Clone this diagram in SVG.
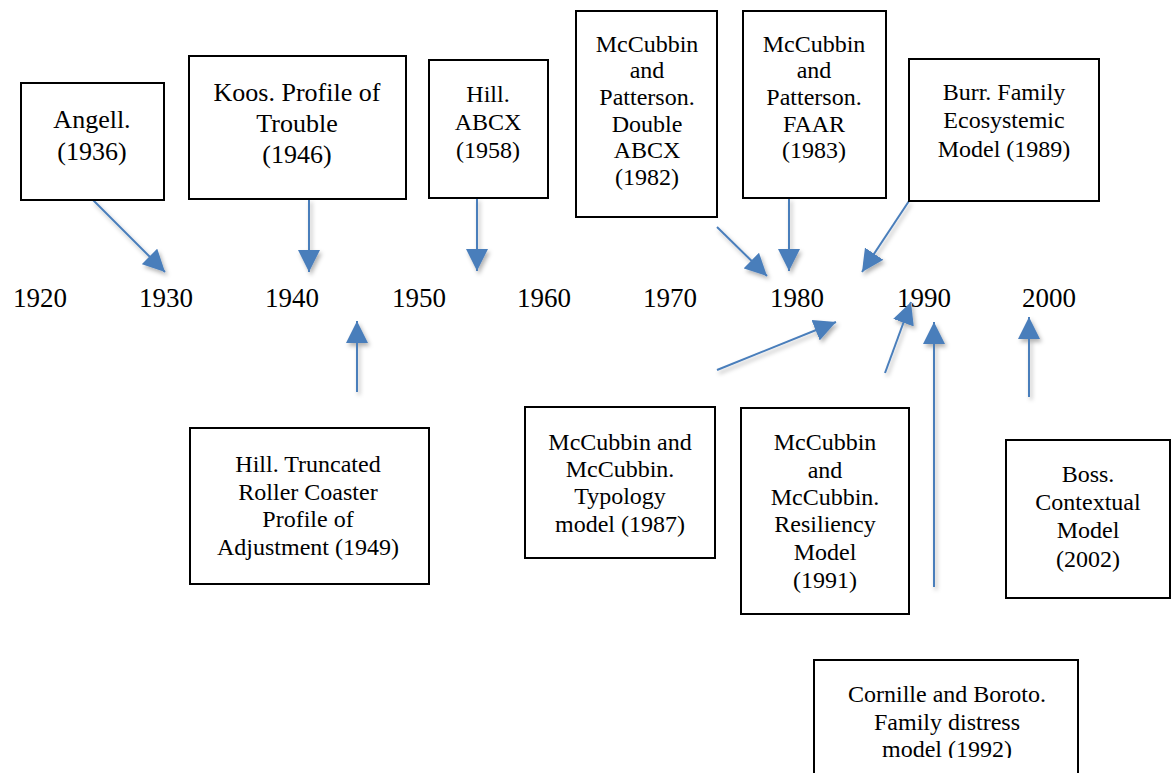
<svg xmlns="http://www.w3.org/2000/svg" width="1171" height="773" viewBox="0 0 1171 773">
<style>
.box{fill:#fff;stroke:#000;stroke-width:2}
.t{font-family:"Liberation Serif","Times New Roman",serif;fill:#000;text-anchor:middle;font-size:24px}
.big{font-size:26px}
.yr{font-family:"Liberation Serif","Times New Roman",serif;fill:#000;font-size:27px}
.arr{stroke:#4a7ebb;stroke-width:2;fill:none;marker-end:url(#ah)}
</style>
<defs>
<marker id="ah" markerUnits="userSpaceOnUse" markerWidth="22" markerHeight="22" refX="20" refY="10" orient="auto" viewBox="0 0 20 20">
<path d="M0,0 L20,10 L0,20 z" fill="#4a7ebb"/>
</marker>
<filter id="sh" x="-20%" y="-20%" width="140%" height="140%">
<feDropShadow dx="2" dy="3" stdDeviation="2" flood-color="#000" flood-opacity="0.3"/>
</filter>
<clipPath id="cc"><rect x="814" y="660" width="264" height="98"/></clipPath>
</defs>
<rect width="1171" height="773" fill="#fff"/>

<g id="years">
<text class="yr" x="13" y="307">1920</text>
<text class="yr" x="139" y="307">1930</text>
<text class="yr" x="265" y="307">1940</text>
<text class="yr" x="392" y="307">1950</text>
<text class="yr" x="517" y="307">1960</text>
<text class="yr" x="643" y="307">1970</text>
<text class="yr" x="770" y="307">1980</text>
<text class="yr" x="897" y="307">1990</text>
<text class="yr" x="1022" y="307">2000</text>
</g>

<g id="connectors" filter="url(#sh)">
<path class="arr" d="M93,200 L165,272"/>
<path class="arr" d="M309,199 L309,272"/>
<path class="arr" d="M477,198 L477,271"/>
<path class="arr" d="M717,227 L767,276"/>
<path class="arr" d="M789,198 L789,271"/>
<path class="arr" d="M909,201 L862,272"/>
<path class="arr" d="M357,392 L357,321"/>
<path class="arr" d="M717,370 L836,322"/>
<path class="arr" d="M885,373 L911,302"/>
<path class="arr" d="M934,587 L934,322"/>
<path class="arr" d="M1029,397 L1029,317"/>
</g>

<g id="angell">
<rect class="box" x="21" y="83" width="143" height="117"/>
<text class="t big" x="92" y="128">Angell.</text>
<text class="t big" x="92" y="160">(1936)</text>
</g>

<g id="koos">
<rect class="box" x="189" y="56" width="217" height="143"/>
<text class="t big" x="297" y="101">Koos. Profile of</text>
<text class="t big" x="297" y="132">Trouble</text>
<text class="t big" x="297" y="163">(1946)</text>
</g>

<g id="hill-abcx">
<rect class="box" x="429" y="60" width="119" height="138"/>
<text class="t" x="488" y="102">Hill.</text>
<text class="t" x="488" y="130">ABCX</text>
<text class="t" x="488" y="158">(1958)</text>
</g>

<g id="double-abcx">
<rect class="box" x="576" y="11" width="141" height="206"/>
<text class="t" x="647" y="52">McCubbin</text>
<text class="t" x="647" y="78">and</text>
<text class="t" x="647" y="105">Patterson.</text>
<text class="t" x="647" y="132">Double</text>
<text class="t" x="647" y="158">ABCX</text>
<text class="t" x="647" y="185">(1982)</text>
</g>

<g id="faar">
<rect class="box" x="743" y="11" width="143" height="187"/>
<text class="t" x="814" y="52">McCubbin</text>
<text class="t" x="814" y="78">and</text>
<text class="t" x="814" y="105">Patterson.</text>
<text class="t" x="814" y="132">FAAR</text>
<text class="t" x="814" y="158">(1983)</text>
</g>

<g id="burr">
<rect class="box" x="909" y="59" width="190" height="142"/>
<text class="t" x="1004" y="100">Burr. Family</text>
<text class="t" x="1004" y="128">Ecosystemic</text>
<text class="t" x="1004" y="157">Model (1989)</text>
</g>

<g id="hill-truncated">
<rect class="box" x="190" y="428" width="239" height="156"/>
<text class="t" x="308" y="472">Hill. Truncated</text>
<text class="t" x="308" y="500">Roller Coaster</text>
<text class="t" x="308" y="527">Profile of</text>
<text class="t" x="308" y="555">Adjustment (1949)</text>
</g>

<g id="typology">
<rect class="box" x="525" y="407" width="190" height="151"/>
<text class="t" x="620" y="450">McCubbin and</text>
<text class="t" x="620" y="477">McCubbin.</text>
<text class="t" x="620" y="504">Typology</text>
<text class="t" x="620" y="532">model (1987)</text>
</g>

<g id="resiliency">
<rect class="box" x="741" y="408" width="168" height="206"/>
<text class="t" x="825" y="450">McCubbin</text>
<text class="t" x="825" y="478">and</text>
<text class="t" x="825" y="505">McCubbin.</text>
<text class="t" x="825" y="532">Resiliency</text>
<text class="t" x="825" y="560">Model</text>
<text class="t" x="825" y="588">(1991)</text>
</g>

<g id="boss">
<rect class="box" x="1006" y="440" width="164" height="158"/>
<text class="t" x="1088" y="482">Boss.</text>
<text class="t" x="1088" y="510">Contextual</text>
<text class="t" x="1088" y="538">Model</text>
<text class="t" x="1088" y="567">(2002)</text>
</g>

<g id="cornille">
<rect class="box" x="814" y="660" width="264" height="130"/>
<g clip-path="url(#cc)">
<text class="t" x="947" y="702">Cornille and Boroto.</text>
<text class="t" x="947" y="730">Family distress</text>
<text class="t" x="947" y="757">model (1992)</text>
</g>
</g>
</svg>
